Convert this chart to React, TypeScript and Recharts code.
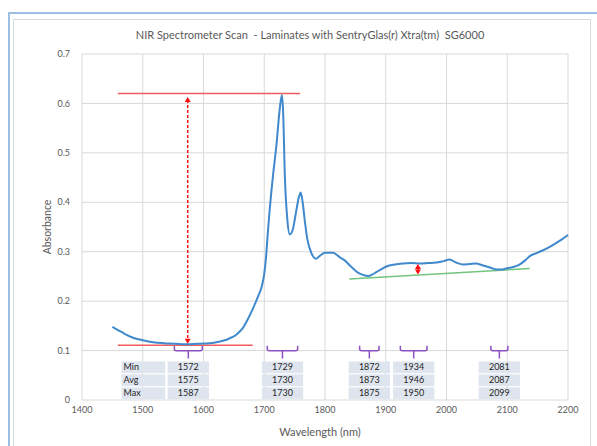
import React from 'react';
import {
  ComposedChart, Line, XAxis, YAxis, CartesianGrid, ReferenceLine, ReferenceArea,
} from 'recharts';

// spectrum
const wavelength = [
  1450, 1460, 1470, 1484, 1500, 1517, 1535, 1550, 1565, 1578, 1595, 1610, 1625, 1638, 1647, 1654,
  1660, 1665, 1671, 1681, 1690, 1696, 1700, 1703, 1706, 1709, 1712, 1715, 1720, 1725, 1729, 1731,
  1734, 1738, 1742, 1747, 1753, 1757, 1760, 1763, 1767, 1771, 1778, 1785, 1791, 1800, 1813, 1824,
  1833, 1841, 1848, 1855, 1863, 1871, 1878, 1885, 1893, 1901, 1915, 1928, 1942, 1956, 1970, 1983,
  1995, 2005, 2016, 2027, 2038, 2049, 2058, 2066, 2074, 2082, 2090, 2098, 2110, 2120, 2130, 2137,
  2148, 2159, 2170, 2181, 2190, 2200,
];
const absorbance = [
  0.148, 0.141, 0.134, 0.126, 0.121, 0.117, 0.115, 0.114, 0.113, 0.113, 0.114, 0.115, 0.118, 0.122, 0.127, 0.132,
  0.139, 0.146, 0.159, 0.184, 0.21, 0.23, 0.255, 0.29, 0.34, 0.386, 0.425, 0.461, 0.515, 0.583, 0.617, 0.585,
  0.45, 0.365, 0.335, 0.345, 0.385, 0.41, 0.42, 0.402, 0.36, 0.325, 0.296, 0.286, 0.291, 0.298, 0.298, 0.289,
  0.282, 0.272, 0.264, 0.257, 0.253, 0.251, 0.254, 0.259, 0.265, 0.27, 0.274, 0.276, 0.277, 0.276, 0.277, 0.278,
  0.281, 0.284, 0.278, 0.274, 0.275, 0.276, 0.273, 0.27, 0.267, 0.264, 0.264, 0.266, 0.269, 0.274, 0.283, 0.291,
  0.297, 0.303, 0.31, 0.318, 0.325, 0.334,
];

const xTicks = [1400, 1500, 1600, 1700, 1800, 1900, 2000, 2100, 2200];
const yTicks = [0, 0.1, 0.2, 0.3, 0.4, 0.5, 0.6, 0.7];

// peak table
const rowLabels = ['Min', 'Avg', 'Max'];
const peakMin = [1572, 1729, 1872, 1934, 2081];
const peakAvg = [1575, 1730, 1873, 1946, 2087];
const peakMax = [1587, 1730, 1875, 1950, 2099];
const bracketHalf = [23, 25, 16, 22, 14];

// annotation lines (data units)
const topLevel = 0.62;
const baseLevel = 0.111;
const arrowX = 1574;
const baselineStart = { x: 1840, y: 0.245 };
const baselineEnd = { x: 2137, y: 0.266 };
const smallArrowX = 1953;

const data = wavelength.map((w, i) => ({ wl: w, abs: absorbance[i] }));

const FONT = 'Lato, "Open Sans", sans-serif';
const GREY = '#595959';

const ArrowLine = ({ x1, y1, x2, y2, dashed }: any) => {
  const top = Math.min(y1, y2);
  const bot = Math.max(y1, y2);
  return (
    <g>
      <line x1={x1} y1={top + 3} x2={x2} y2={bot - 3} stroke="#ff1010" strokeWidth={1.5}
            strokeDasharray={dashed ? '3 2' : undefined} />
      <path d={`M${x1},${top} L${x1 - 3},${top + 5} L${x1 + 3},${top + 5} Z`} fill="#ff1010" />
      <path d={`M${x1},${bot} L${x1 - 3},${bot - 5} L${x1 + 3},${bot - 5} Z`} fill="#ff1010" />
    </g>
  );
};

const Bracket = ({ x, y, width, height }: any) => {
  const cx = x + width / 2;
  const m = y + 5;
  const d = `M${x},${y} L${x},${m - 2} Q${x},${m} ${x + 2},${m} L${x + width - 2},${m} ` +
    `Q${x + width},${m} ${x + width},${m - 2} L${x + width},${y} M${cx},${m} L${cx},${y + height}`;
  return <path d={d} fill="none" stroke="#8c52c4" strokeWidth={1.5} />;
};

const TableCell = ({ x, y, width, height, text, left }: any) => (
  <g>
    <rect x={x} y={y} width={width} height={height} fill="#dfe5ef" />
    <text x={left ? x + 2 : x + width / 2} y={y + height / 2 + 3} textAnchor={left ? 'start' : 'middle'}
          fontSize={9} fontFamily={FONT} fill="#262626">{text}</text>
  </g>
);

const rowTop = (r: number) => 0.078 - r * 0.0262;
const rowBottom = (r: number) => rowTop(r) - 0.0238;

export default function App() {
  const rows = [peakMin, peakAvg, peakMax];
  return (
    <div style={{ position: 'absolute', left: 0, top: 0, width: 597, height: 446, overflow: 'hidden', background: '#fff' }}>
      <div style={{ position: 'absolute', left: 8, top: 12, width: 640, height: 480, border: '2px solid #9cbfe4' }} />
      <div style={{ position: 'absolute', left: 13, top: 19, width: 576, height: 480, border: '1px solid #d9d9d9' }} />
      <div style={{ position: 'absolute', left: 0, width: 620, top: 28, textAlign: 'center', fontFamily: FONT,
                    fontSize: 11, color: GREY, whiteSpace: 'pre' }}>
        {'NIR Spectrometer Scan  - Laminates with SentryGlas(r) Xtra(tm)  SG6000'}
      </div>
      <div style={{ position: 'absolute', left: 47, top: 227, transform: 'translate(-50%, -50%) rotate(-90deg)',
                    fontFamily: FONT, fontSize: 10.5, color: GREY, whiteSpace: 'nowrap' }}>
        Absorbance
      </div>
      <div style={{ position: 'absolute', left: 320, top: 431, transform: 'translate(-50%, -50%)',
                    fontFamily: FONT, fontSize: 11, color: GREY, whiteSpace: 'nowrap' }}>
        Wavelength (nm)
      </div>
      <div style={{ position: 'absolute', left: 0, top: 0 }}>
        <ComposedChart width={597} height={446} data={data}
                       margin={{ top: 54, right: 29, bottom: 26, left: 30 }}>
          <CartesianGrid stroke="#d9d9d9" strokeWidth={1} />
          <XAxis type="number" dataKey="wl" domain={[1400, 2200]} ticks={xTicks} interval={0}
                 axisLine={false} tickLine={false} tickSize={0} tickMargin={7} height={20}
                 tick={{ fontSize: 9, fontFamily: FONT, fill: GREY }} />
          <YAxis type="number" domain={[0, 0.7]} ticks={yTicks} interval={0} width={52}
                 axisLine={false} tickLine={false} tickSize={0} tickMargin={12}
                 tickFormatter={(v: number) => (v === 0 ? '0' : v.toFixed(1))}
                 tick={{ fontSize: 9, fontFamily: FONT, fill: GREY }} />

          {/* table cells */}
          {rowLabels.map((lab, r) => (
            <ReferenceArea key={`l${r}`} x1={1465} x2={1537} y1={rowBottom(r)} y2={rowTop(r)}
                           shape={(p: any) => <TableCell {...p} text={lab} left />} />
          ))}
          {rows.map((vals, r) => vals.map((v, c) => (
            <ReferenceArea key={`c${r}-${c}`} x1={peakAvg[c] - 34} x2={peakAvg[c] + 34}
                           y1={rowBottom(r)} y2={rowTop(r)}
                           shape={(p: any) => <TableCell {...p} text={String(v)} />} />
          )))}

          {/* brackets */}
          {peakAvg.map((a, i) => (
            <ReferenceArea key={`b${i}`} x1={a - bracketHalf[i]} x2={a + bracketHalf[i]} y1={0.084} y2={0.11}
                           shape={(p: any) => <Bracket {...p} />} />
          ))}

          <ReferenceLine segment={[{ x: 1459, y: topLevel }, { x: 1759, y: topLevel }]}
                         stroke="#f25c5c" strokeWidth={1.5} />
          <ReferenceLine segment={[{ x: 1459, y: baseLevel }, { x: 1681, y: baseLevel }]}
                         stroke="#f25c5c" strokeWidth={1.5} />
          <ReferenceLine segment={[baselineStart, baselineEnd]} stroke="#72c47f" strokeWidth={1.5} />

          <Line type="monotone" dataKey="abs" stroke="#3f89cc" strokeWidth={2} dot={false}
                isAnimationActive={false} />

          <ReferenceLine segment={[{ x: arrowX, y: 0.114 }, { x: arrowX, y: 0.613 }]}
                         shape={(p: any) => <ArrowLine {...p} dashed />} />
          <ReferenceLine segment={[{ x: smallArrowX, y: 0.254 }, { x: smallArrowX, y: 0.275 }]}
                         shape={(p: any) => <ArrowLine {...p} />} />
        </ComposedChart>
      </div>
    </div>
  );
}
